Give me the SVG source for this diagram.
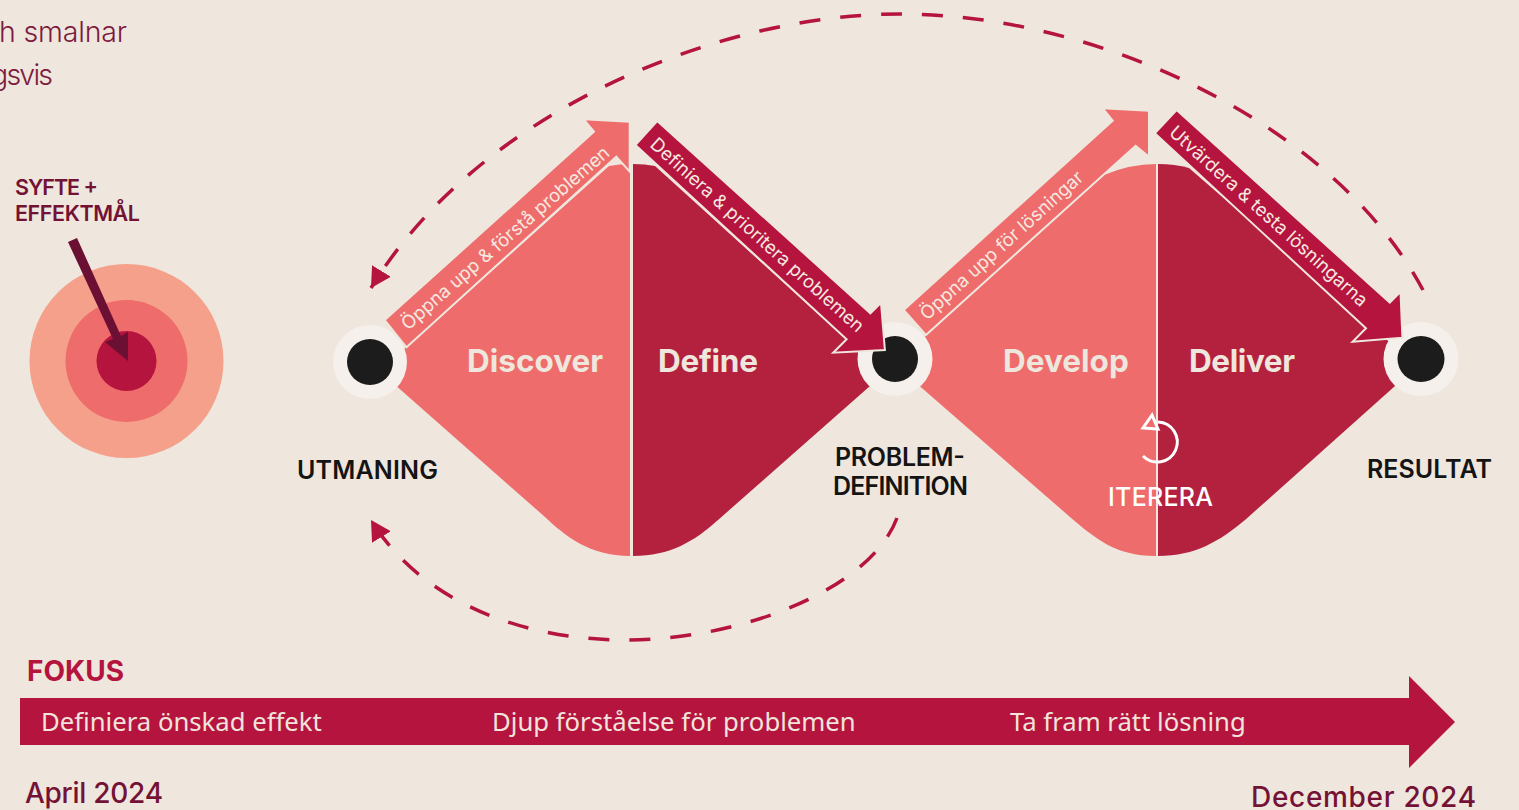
<svg xmlns="http://www.w3.org/2000/svg" width="1519" height="810" viewBox="0 0 1519 810">
<style>
text{font-family:Inter,"Noto Sans","Liberation Sans",sans-serif}
.light{fill:#EE6C6B}.dark{fill:#B3213F}
.band{stroke:#EFE6DD;stroke-width:2;stroke-linejoin:miter}
.crim{fill:#B5143F}
.phase{font-size:31.500px;font-weight:700;fill:#EFE6DD}
.band-t{font-size:18.500px;fill:#F5E9E0;font-weight:400}
.mile{font-size:25px;font-weight:600;fill:#141414}
.focus{font-family:"Noto Sans","Open Sans",sans-serif;font-size:25.700px;fill:#F0E4DC}
.date{font-size:28px;font-weight:500;fill:#741236}
.intro{font-size:28.500px;fill:#7D1B3E;font-weight:300}
.ring{fill:#F5F0EB}.core{fill:#1C1C1C}
.dash{fill:none;stroke:#B5143F;stroke-width:3.500;stroke-dasharray:21 20}
</style>
<defs>
<marker id="head" markerUnits="userSpaceOnUse" markerWidth="24" markerHeight="24" refX="20" refY="11" orient="auto"><path d="M0,0L20,11L0,22Z" fill="#B5143F"/></marker>
</defs>
<rect width="1519" height="810" fill="#EFE6DD"/>
<g id="intro">
<text class="intro" x="-1" y="42" textLength="128">h smalnar</text>
<text class="intro" x="-9" y="85" textLength="62">gsvis</text>
</g>
<g id="target">
<circle cx="126.500" cy="361" r="97" fill="#F5A08A"/>
<circle cx="126.500" cy="361" r="61" fill="#EE6C6B"/>
<circle cx="126.500" cy="361" r="30" fill="#B5143F"/>
<path d="M68,242L77,238L121,336L128,332L128,361L105,342L113,339Z" fill="#6B0F33"/>
<text x="15" y="195" font-size="21.500" font-weight="600" fill="#741236" textLength="83">SYFTE +</text>
<text x="15" y="221" font-size="21.500" font-weight="600" fill="#741236" textLength="125">EFFEKTMÅL</text>
</g>
<g id="diamond-1">
<path id="discover" class="light" d="M380,362L407,347L609,166Q620,164 630,164V556C590,556 565,536 545,517L385,376Z"/>
<path id="define" class="dark" d="M633,164Q645,164 655,166L880,370L870,386L718,520C695,541 670,556 633,556Z"/>
<text class="phase" x="467" y="372">Discover</text>
<text class="phase" x="658" y="372" textLength="100">Define</text>
</g>
<g id="diamond-2">
<path id="develop" class="light" d="M905,362L926,335L1104,175Q1130,164 1156,164V556C1115,556 1095,538 1070,517L915,382Z"/>
<path id="deliver" class="dark" d="M1158,164Q1175,164 1189,168L1410,360L1395,386L1245,520C1220,541 1195,556 1158,556Z"/>
<text class="phase" x="1003" y="372">Develop</text>
<text class="phase" x="1189" y="372" textLength="106">Deliver</text>
<g id="iterate" fill="none" stroke="#fff" stroke-width="3">
<path d="M1143,456A20,20 0 1 0 1158,422"/>
<path d="M1152,415L1143,428L1158,429Z"/>
</g>
<text x="1108" y="506" font-size="25" font-weight="500" fill="#fff" textLength="105">ITERERA</text>
</g>
<g id="node-utmaning">
<ellipse class="ring" cx="370" cy="362" rx="37" ry="37"/><ellipse class="core" cx="370" cy="362" rx="23" ry="23"/>
<text class="mile" x="297" y="479" textLength="141">UTMANING</text>
</g>
<g id="node-problem">
<ellipse class="ring" cx="895" cy="359" rx="37.500" ry="37"/><ellipse class="core" cx="895" cy="359" rx="23" ry="23"/>
<text class="mile" x="835" y="466" textLength="130">PROBLEM-</text>
<text class="mile" x="833" y="495" textLength="135">DEFINITION</text>
</g>
<g id="node-resultat">
<ellipse class="ring" cx="1421" cy="359" rx="37.500" ry="37"/><ellipse class="core" cx="1421" cy="359" rx="23.500" ry="23"/>
<text class="mile" x="1367" y="478" textLength="125">RESULTAT</text>
</g>
<g id="bands">
<g id="band-1"><path class="light band" d="M384.700,320L594,131.700L583.700,119.300L629.700,121.700V171.700L616.300,156.700L406.500,347.300Z"/>
<text class="band-t" transform="translate(408,331) rotate(-41)">Öppna upp &amp; förstå problemen</text></g>
<g id="band-2"><path class="crim band" d="M657.200,121L870.400,313.300L881,302.700L884.900,350L833.200,352.700L846.600,339.300L635.400,145Z"/>
<text class="band-t" transform="translate(649,146) rotate(42)">Definiera &amp; prioritera problemen</text></g>
<g id="band-3"><path class="light band" d="M903.700,310L1112.700,120.700L1102.700,108.300L1149,110.700V156.700L1135.600,145.700L925.900,335Z"/>
<text class="band-t" transform="translate(927,321) rotate(-42)">Öppna upp för lösningar</text></g>
<g id="band-4"><path class="crim band" d="M1176.600,110L1389.800,302.700L1400.500,291.700L1402.400,337.700L1352.600,341.700L1366,328.300L1154.800,133.300Z"/>
<text class="band-t" transform="translate(1168,134) rotate(42)">Utvärdera &amp; testa lösningarna</text></g>
</g>
<g id="connectors">
<path class="dash" marker-end="url(#head)" d="M1423,290C1335,125 1100,14 900,14C720,14 480,110 371,288"/>
<path class="dash" marker-end="url(#head)" d="M897,518C870,590 740,640 625,640C520,640 420,600 371,520"/>
</g>
<g id="focus">
<text x="27" y="681" font-size="28" font-weight="700" fill="#B5143F" textLength="97">FOKUS</text>
<path class="crim" d="M20,698H1409V676L1455,722L1409,768V745H20Z"/>
<text class="focus" x="41" y="731">Definiera önskad effekt</text>
<text class="focus" x="492" y="731">Djup förståelse för problemen</text>
<text class="focus" x="1010" y="731">Ta fram rätt lösning</text>
<text class="date" x="25" y="803" textLength="138">April 2024</text>
<text class="date" x="1251" y="807" textLength="225">December 2024</text>
</g>
</svg>
